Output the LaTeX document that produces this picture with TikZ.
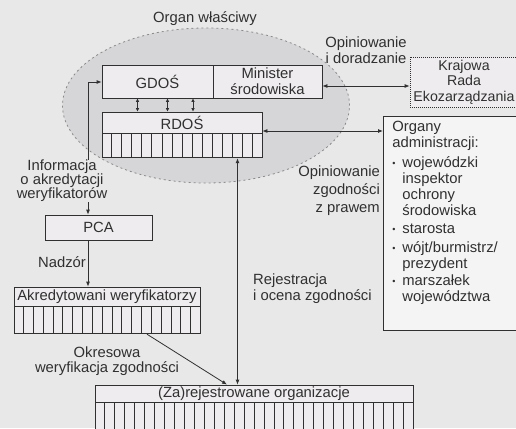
\documentclass[tikz,border=0pt]{standalone}
\usepackage{fontspec}
\setmainfont{Liberation Sans}
\usetikzlibrary{shapes.geometric,arrows.meta,calc}
\definecolor{bg}{HTML}{E8E8E8}
\definecolor{ink}{HTML}{303030}
\definecolor{ellfill}{HTML}{D6D5D8}
\definecolor{boxfill}{HTML}{EEECEE}
\definecolor{dashc}{HTML}{8A8A8A}
\newcommand\myhatch[3]{\foreach \i in {1,...,#2}{\draw[conn] ($(#1.north west)!\i/#3!(#1.north east)$) -- ($(#1.south west)!\i/#3!(#1.south east)$);}}
\newcommand\mybul{\makebox[10pt][l]{\raisebox{1pt}{\fontsize{9}{9}\selectfont\textbullet}}}
\begin{document}
\begin{tikzpicture}[x=1pt,y=-1pt,
  font=\fontsize{14.8}{16}\selectfont,
  >={Latex[length=5pt,width=4pt]},
  conn/.style={draw=ink, line width=0.8pt},
  box/.style={draw=ink, line width=0.8pt, fill=boxfill, inner sep=0pt, text=ink},
  hbox/.style={draw=ink, line width=0.8pt, fill=boxfill, inner sep=0pt, anchor=north},
  lbl/.style={inner sep=0pt, align=center, text=ink},
  small/.style={{Latex[length=3.5pt,width=3.5pt]}-{Latex[length=3.5pt,width=3.5pt]}}
]
\useasboundingbox (0,0) rectangle (516,428);
\fill[bg] (0,0) rectangle (516,428);
\clip (0,0) rectangle (516,428);

% organ wlasciwy ellipse
\node[ellipse, draw=dashc, line width=0.8pt, dash pattern=on 2pt off 3pt, fill=ellfill,
      minimum width=287, minimum height=155, inner sep=0pt] (organ) at (206,105.5) {};
\node[lbl] (organlbl) at (205,19) {Organ właściwy};

% GDOS / Minister
\node[box, minimum width=111, minimum height=33] (gdos) at (157.5,81.5) {GDOŚ};
\node[box, minimum width=109, minimum height=33, align=center] (min) at (267.5,81.5) {Minister\\środowiska};

% RDOS
\node[box, minimum width=160, minimum height=21] (rdos) at (182,122.5) {RDOŚ};
\node[hbox, minimum width=160, minimum height=24] (rdosh) at (rdos.south) {};
\myhatch{rdosh}{15}{16}

% small arrows between GDOS and RDOS
\coordinate (a1) at (137.5,0);
\coordinate (a2) at (167.5,0);
\coordinate (a3) at (193,0);
\foreach \c in {a1,a2,a3}{\draw[conn, small] (gdos.south -| \c) -- (rdos.north -| \c);}

% Krajowa Rada
\node[box, dash pattern=on 1pt off 1pt, minimum width=108, minimum height=50, align=center,
      font=\fontsize{14.2}{15.5}\selectfont] (kr) at (464,82) {Krajowa\\Rada\\Ekozarządzania};
\coordinate (ay) at (0,86);
\draw[conn, <->] (min.east |- ay) -- (kr.west |- ay);
\node[lbl] (opd) at (366,50) {Opiniowanie\\i doradzanie};

% Organy administracji
\node[box, anchor=north west, inner xsep=9pt, inner ysep=0pt, fill=boxfill!60!white] (org) at (383,116)
  {\parbox[c][214pt][t]{130pt}{\raggedright\vspace{4.5pt}%
   Organy\\
   administracji:\\[4pt]
   \mybul wojewódzki\\
   \hspace*{10pt}inspektor\\
   \hspace*{10pt}ochrony\\
   \hspace*{10pt}środowiska\\[2.5pt]
   \mybul starosta\\[2.5pt]
   \mybul wójt/burmistrz/\\
   \hspace*{10pt}prezydent\\[1pt]
   \mybul marszałek\\
   \hspace*{10pt}województwa}};
\coordinate (by) at (0,131);
\draw[conn, <->] (rdos.east |- by) -- (org.west |- by);
\node[lbl, align=right, anchor=east, execute at begin node={\baselineskip=18pt}] (opz) at (380,191) {Opiniowanie\\zgodności\\z prawem};

% left side
\node[lbl, execute at begin node={\baselineskip=14pt}] (info) at (62,181) {Informacja\\o akredytacji\\weryfikatorów};
\coordinate (lx) at (88,0);
\coordinate (ly) at (0,82);
\draw[conn, ->] (info.north -| lx) |- (gdos.west |- ly);

\node[box, minimum width=107, minimum height=25] (pca) at (98.5,227.5) {PCA};
\draw[conn, ->] (info.south -| lx) -- (pca.north -| lx);

\node[box, minimum width=186, minimum height=19] (akr) at (107,296.5) {Akredytowani weryfikatorzy};
\node[hbox, minimum width=186, minimum height=27] (akrh) at (akr.south) {};
\myhatch{akrh}{18}{19}
\draw[conn, ->] (pca.south -| lx) -- (akr.north -| lx);
\node[lbl] (nadzor) at (62,262) {Nadzór};

% registered organisations
\node[box, minimum width=318, minimum height=17] (zar) at (254,393.5) {(Za)rejestrowane organizacje};
\node[hbox, minimum width=318, minimum height=32] (zarh) at (zar.south) {};
\myhatch{zarh}{31}{32}

\coordinate (dx1) at (147,0);
\coordinate (dx2) at (227,0);
\draw[conn, ->] (akrh.south -| dx1) -- (zar.north -| dx2);
\node[lbl, execute at begin node={\baselineskip=15pt}] (okr) at (107,361) {Okresowa\\weryfikacja zgodności};

\coordinate (vx) at (237.5,0);
\draw[conn, <->] (rdosh.south -| vx) -- (zar.north -| vx);
\node[lbl, align=left, anchor=west] (rej) at (253,289) {Rejestracja\\i ocena zgodności};
\end{tikzpicture}
\end{document}
